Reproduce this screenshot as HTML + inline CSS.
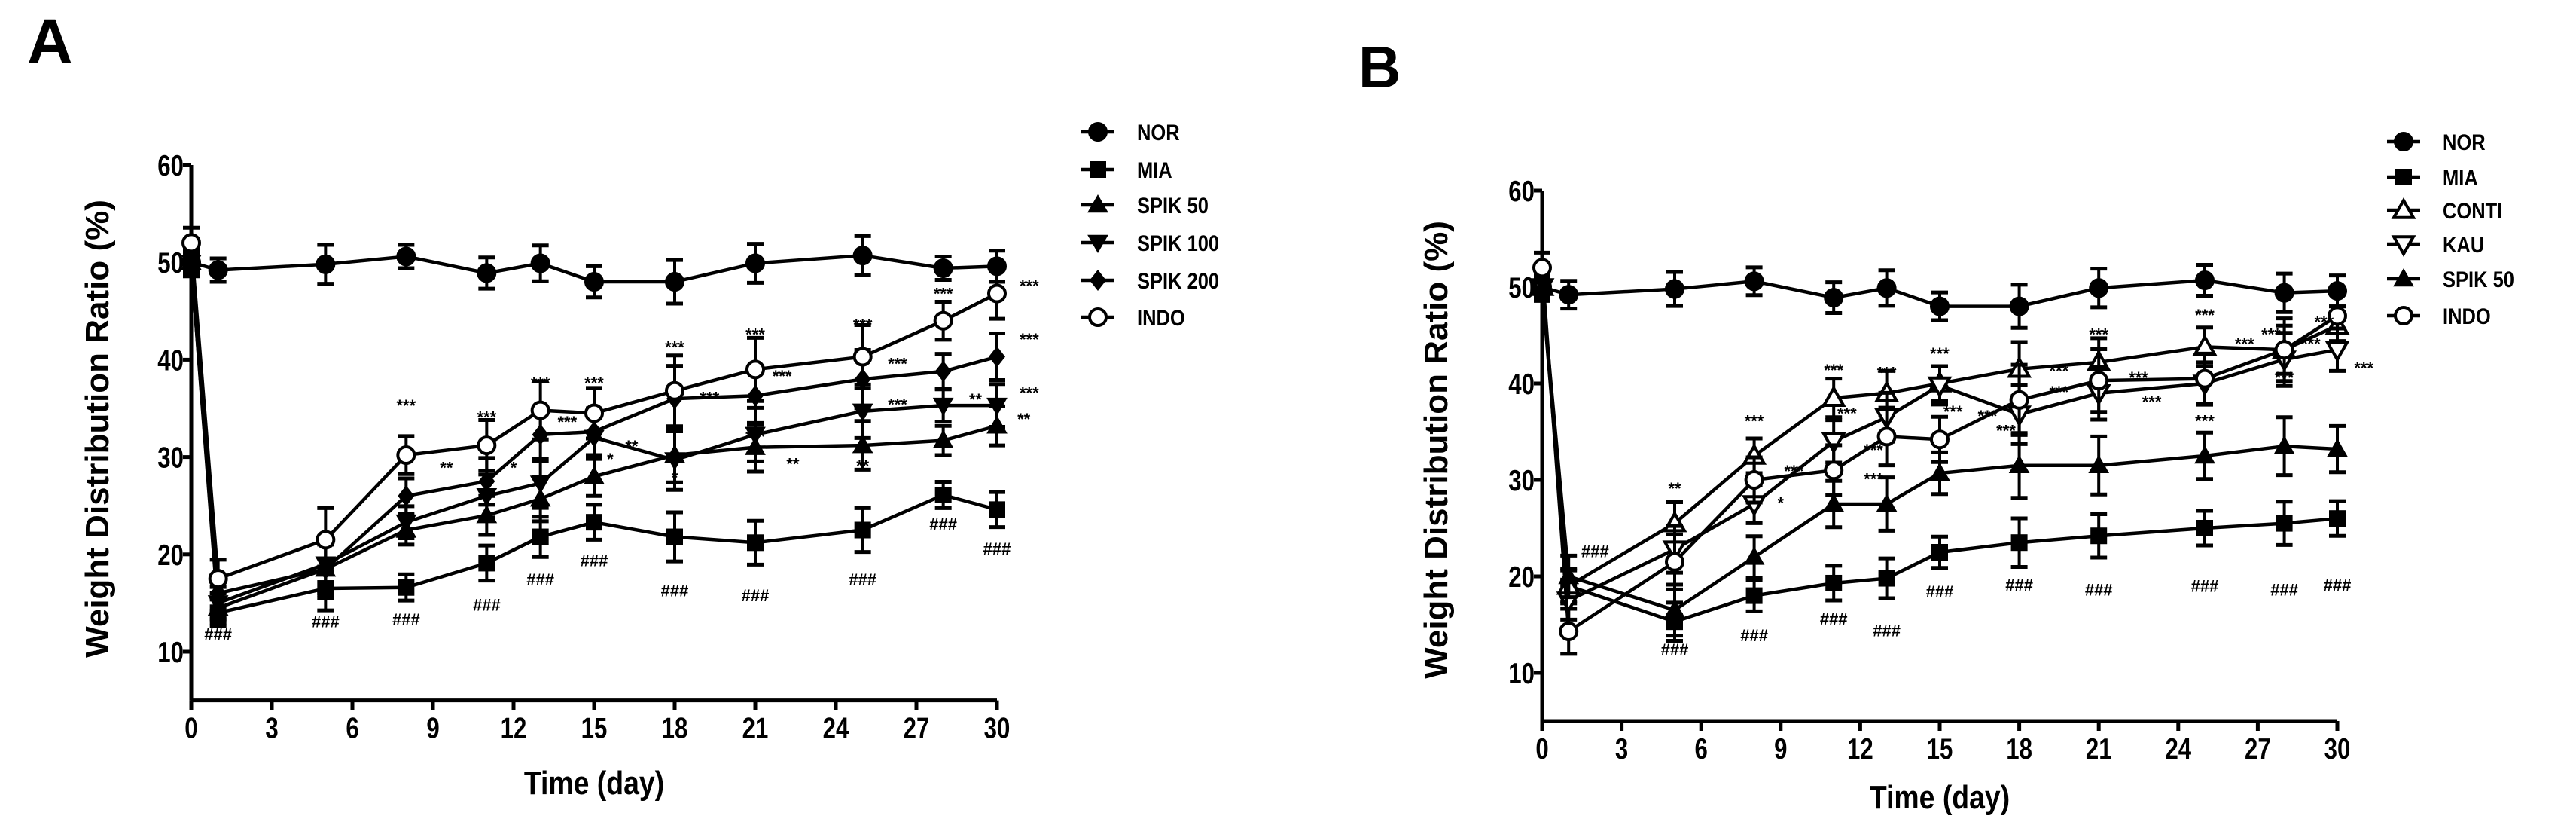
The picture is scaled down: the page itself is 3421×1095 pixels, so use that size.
<!DOCTYPE html>
<html><head><meta charset="utf-8">
<style>
html,body{margin:0;padding:0;background:#fff;}
svg{display:block;font-family:"Liberation Sans",Arial,sans-serif;}
.tick{font-size:39px;font-weight:bold;}
.ttl{font-size:44px;font-weight:bold;}
.leg{font-size:30px;font-weight:bold;}
.ann{font-size:22px;font-weight:bold;}
</style></head>
<body>
<svg id="chart" width="3421" height="1095" viewBox="0 0 3421 1095">
<text x="36" y="84" font-size="84" font-weight="bold">A</text>
<text x="1804" y="116" font-size="78" font-weight="bold">B</text>
</svg>
<script>
const days = [0,1,5,8,11,13,15,18,21,25,28,30];
const xTicks = [0,3,6,9,12,15,18,21,24,27,30];
const yTicks = [10,20,30,40,50,60];

const aNames = ["NOR","MIA","SPIK 50","SPIK 100","SPIK 200","INDO"];
const aMarkers = ["circle","square","tri","itri","diamond","ocircle"];
const aNOR = [50,49.2,49.8,50.6,48.9,49.9,48,48,49.9,50.7,49.4,49.6];
const aMIA = [50,14,16.5,16.6,19.1,21.8,23.3,21.8,21.2,22.5,26.1,24.6];
const aSPIK50 = [50,14.5,18.5,22.5,24,25.7,28,30.2,31,31.2,31.7,33.2];
const aSPIK100 = [50,15,19,23.3,26,27.3,32,29.7,32.3,34.7,35.3,35.3];
const aSPIK200 = [50,16,18.5,26,27.5,32.3,32.6,36,36.3,38,38.8,40.3];
const aINDO = [52,17.5,21.5,30.2,31.2,34.8,34.5,36.8,39,40.3,44,46.8];
const aErr = [1.2,1.5,2.5,1.5,2,2.3,2,2.8,2.5,2.5,1.5,2];

const bNames = ["NOR","MIA","CONTI","KAU","SPIK 50","INDO"];
const bMarkers = ["circle","square","otri","oitri","tri","ocircle"];
const bNOR = [50,49.2,49.8,50.6,48.9,49.9,48,48,49.9,50.7,49.4,49.6];
const bMIA = [50,19,15.3,18,19.3,19.8,22.5,23.5,24.2,25,25.5,26];
const bCONTI = [50,19,25.5,32.5,38.5,39,40,41.5,42.2,43.8,43.5,46];
const bKAU = [50,17.5,22.8,27.5,34,36.5,39.8,36.8,39,40,42.5,43.5];
const bSPIK50 = [50,20,16.5,22,27.5,27.5,30.7,31.5,31.5,32.5,33.5,33.2];
const bINDO = [52,14.3,21.5,30,31,34.5,34.2,38.3,40.3,40.5,43.5,47];
const bErr = [1.2,1.8,2.2,1.8,2,2.3,1.8,2.8,2.5,2,2.5,2];

const aAnn = [[8,34.7,"***"],[11,33.5,"***"],[13,37,"***"],[15,37,"***"],[18,40.7,"***"],[21,42,"***"],[25,43,"***"],[28,46.2,"***"],[31.2,47,"***"],
[31.2,41.5,"***"],[26.3,39,"***"],[22,37.7,"***"],[19.3,35.5,"***"],[14,33,"***"],[26.3,34.8,"***"],[31.2,36,"***"],[21,31.5,"***"],
[9.5,28.3,"**"],[16.4,30.5,"**"],[22.4,28.7,"**"],[25,28.5,"**"],[29.2,35.3,"**"],[31,33.3,"**"],[12,28.3,"*"],[15.6,29.2,"*"],[18,27.3,"*"],
[1,11.2,"###"],[5,12.5,"###"],[8,12.7,"###"],[11,14.2,"###"],[13,16.8,"###"],[15,18.8,"###"],[18,15.7,"###"],[21,15.2,"###"],[25,16.8,"###"],[28,22.5,"###"],[30,20,"###"]];
const bAnn = [[2,22,"###"],[5,11.8,"###"],[8,13.3,"###"],[11,15,"###"],[13,13.8,"###"],[15,17.8,"###"],[18,18.5,"###"],[21,18,"###"],[25,18.4,"###"],[28,18,"###"],[30,18.5,"###"],
[8,35.5,"***"],[11,40.8,"***"],[13,40.5,"***"],[15,42.5,"***"],[21,44.5,"***"],[25,46.5,"***"],[27.5,44.5,"***"],[29.5,45.8,"***"],[28,40,"***"],[25,35.5,"***"],[31,41,"***"],
[16.8,36,"***"],[19.5,38.5,"***"],[22.5,40,"***"],[23,37.5,"***"],[19.5,40.7,"***"],[15.5,36.5,"***"],[12.5,32.5,"***"],[12.5,29.5,"***"],[9.5,30.3,"***"],[11.5,36.3,"***"],[26.5,43.5,"***"],[29,43.5,"***"],[17.5,34.5,"***"],
[5,28.5,"**"],[9,27,"*"]];

const NS="http://www.w3.org/2000/svg";
const svg=document.getElementById('chart');
function mk(tag,attrs,parent){const e=document.createElementNS(NS,tag);for(const k in attrs)e.setAttribute(k,attrs[k]);(parent||svg).appendChild(e);return e;}

function marker(g,type,cx,cy){
  const r=11;let e;
  if(type==="circle"||type==="ocircle"){e=mk('circle',{cx:cx,cy:cy,r:r,fill:type==="circle"?"#000":"#fff",stroke:"#000","stroke-width":4},g);}
  else if(type==="square"){e=mk('rect',{x:cx-r,y:cy-r,width:2*r,height:2*r,fill:"#000"},g);}
  else if(type==="diamond"){e=mk('polygon',{points:`${cx},${cy-r-3} ${cx+r},${cy} ${cx},${cy+r+3} ${cx-r},${cy}`,fill:"#000"},g);}
  else{const up=(type==="tri"||type==="otri");const s=r+2;
    const pts=up?`${cx},${cy-s} ${cx+s},${cy+s*0.75} ${cx-s},${cy+s*0.75}`:`${cx},${cy+s} ${cx+s},${cy-s*0.75} ${cx-s},${cy-s*0.75}`;
    const open=type[0]==="o";
    e=mk('polygon',{points:pts,fill:open?"#fff":"#000",stroke:"#000","stroke-width":open?4:1},g);}
  return e;
}

function panel(id,P,names,markers,series,err,ann){
  const X=d=>P.x0+(d/30)*(P.x30-P.x0);
  const Y=v=>P.y10+(10-v)*(P.y10-P.y60)/50;
  const g=mk('g',{});
  
  
  const ax=mk('line',{x1:P.x0,y1:Y(60),x2:P.x0,y2:Y(5),stroke:"#000","stroke-width":5},g);
  
  
  const bx=mk('line',{x1:P.x0,y1:Y(5),x2:P.x30,y2:Y(5),stroke:"#000","stroke-width":5},g);
  
  
  yTicks.forEach(v=>{
    mk('line',{x1:P.x0-11,y1:Y(v),x2:P.x0,y2:Y(v),stroke:"#000","stroke-width":5},g);
    const t=mk('text',{x:P.x0-10,y:Y(v)+14,"text-anchor":"end",class:"tick",transform:`translate(${P.x0-10},0) scale(0.8,1) translate(${-(P.x0-10)},0)`},g);
    t.textContent=v;
    
    
  });
  xTicks.forEach(d=>{
    mk('line',{x1:X(d),y1:Y(5),x2:X(d),y2:Y(5)+13,stroke:"#000","stroke-width":5},g);
    const t=mk('text',{x:X(d),y:Y(5)+50,"text-anchor":"middle",class:"tick",transform:`translate(${X(d)},0) scale(0.8,1) translate(${-X(d)},0)`},g);
    t.textContent=d;
    
    
  });
  const xt=mk('text',{x:(P.x0+P.x30)/2,y:P.xTitleY,"text-anchor":"middle",class:"ttl",transform:`translate(${(P.x0+P.x30)/2},0) scale(0.85,1) translate(${-(P.x0+P.x30)/2},0)`},g);
  xt.textContent="Time (day)";
  
  
  const yt=mk('text',{x:0,y:0,"text-anchor":"middle",class:"ttl",transform:`translate(${P.yTitleX},${P.yTitleY}) rotate(-90)`},g);
  yt.textContent="Weight Distribution Ratio (%)";
  
  
  series.forEach((vals,si)=>{
    const sg=mk('g',{},g);
    
    
    mk('polyline',{points:vals.map((v,i)=>X(days[i])+","+Y(v)).join(" "),fill:"none",stroke:"#000","stroke-width":4.5},sg);
    vals.forEach((v,i)=>{
      const e=err[i]*(0.8+0.1*si);
      const x=X(days[i]);
      mk('line',{x1:x,y1:Y(v+e),x2:x,y2:Y(v-e),stroke:"#000","stroke-width":4},sg);
      mk('line',{x1:x-11,y1:Y(v+e),x2:x+11,y2:Y(v+e),stroke:"#000","stroke-width":5},sg);
      mk('line',{x1:x-11,y1:Y(v-e),x2:x+11,y2:Y(v-e),stroke:"#000","stroke-width":5},sg);
    });
    vals.forEach((v,i)=>{
      const m=marker(sg,markers[si],X(days[i]),Y(v));
      
      
    });
  });
  ann.forEach(a=>{
    const t=mk('text',{x:X(a[0]),y:Y(a[1]),"text-anchor":"middle",class:"ann"},g);
    t.textContent=a[2];
    
    
  });
  names.forEach((n,i)=>{
    const lg=mk('g',{},g);
    
    
    const y=P.legY[i];
    mk('line',{x1:P.legX-22,y1:y,x2:P.legX+22,y2:y,stroke:"#000","stroke-width":4.5},lg);
    marker(lg,markers[i],P.legX,y);
    const t=mk('text',{x:P.legX+52,y:y+11,class:"leg",transform:`translate(${P.legX+52},0) scale(0.85,1) translate(${-(P.legX+52)},0)`},lg);
    t.textContent=n;
  });
}

panel('panel-a',{x0:254,x30:1324,y60:219,y10:865,xTitleY:1054,yTitleX:144,yTitleY:569,legX:1458,legY:[175,225,272,322,372,421]},
  aNames,aMarkers,[aNOR,aMIA,aSPIK50,aSPIK100,aSPIK200,aINDO],aErr,aAnn);
panel('panel-b',{x0:2048,x30:3104,y60:253,y10:893,xTitleY:1073,yTitleX:1922,yTitleY:597,legX:3192,legY:[188,235,279,324,370,419]},
  bNames,bMarkers,[bNOR,bMIA,bCONTI,bKAU,bSPIK50,bINDO],bErr,bAnn);
</script>
</body></html>
